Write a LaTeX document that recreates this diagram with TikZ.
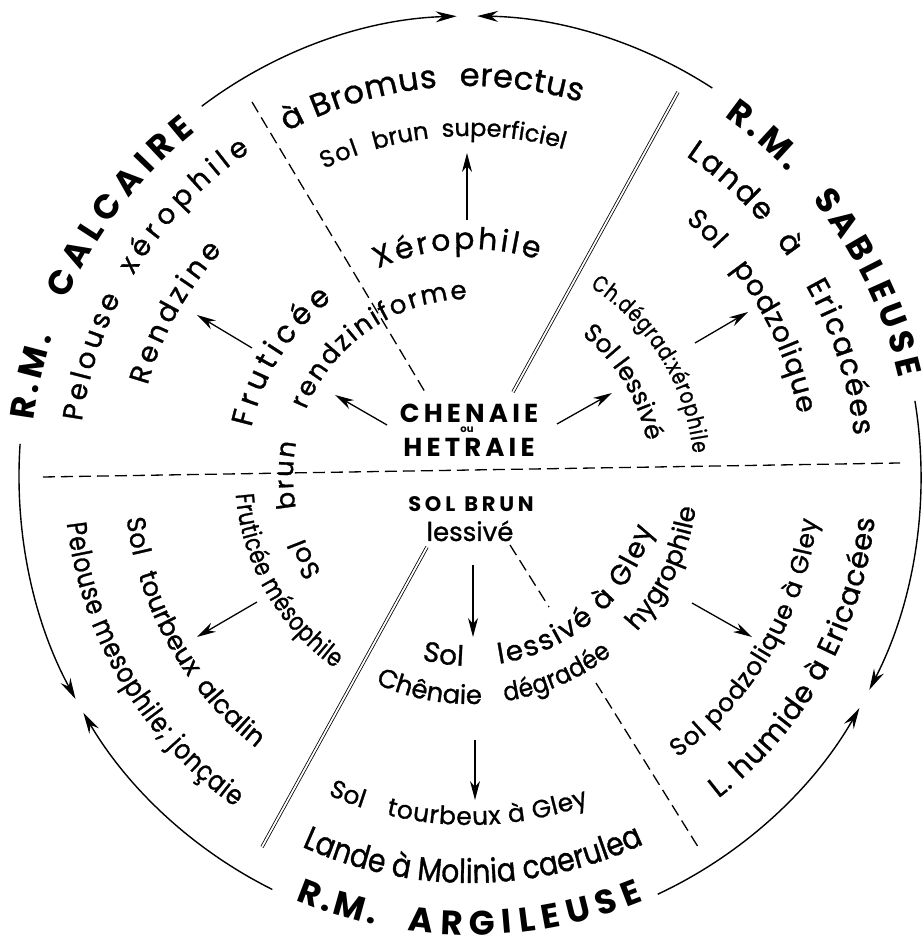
\documentclass[tikz,border=0pt]{standalone}
\usepackage{fontspec}
\setmainfont{Poppins}
\newfontfamily\tf{Poppins}[FakeBold=1.0]
\usetikzlibrary{decorations.text,arrows.meta,calc}
\tikzset{
  ring/.style={line width=1.4pt},
  ringarrow/.style={ring,-{Stealth[length=21pt,width=11pt,inset=7pt]}},
  smallarrow/.style={line width=1.3pt,-{Stealth[length=19pt,width=10pt,inset=6pt]}},
  sepline/.style={line width=1.3pt,dash pattern=on 12pt off 6pt},
  dblline/.style={double,double distance=1.8pt,line width=0.8pt},
  ctext/.style={inner sep=0pt,anchor=base}
}
% text spread along an arc of circle centred at C: radius, start angle, end angle, size, font, text
\newcommand\Ptext[6]{%
  \path[decorate,decoration={text along path,text align=fit to path,
    text={|\fontsize{#4}{#4}\selectfont#5|#6}}]
    ($(C)+(#2:#1)$) arc[start angle=#2,end angle=#3,radius=#1];}
% single character centred at an angle (clockwise, tops outward)
\newcommand\Ctext[5]{%
  \path[decorate,decoration={text along path,text align=center,
    text={|\fontsize{#3}{#3}\selectfont#4|#5}}]
    ($(C)+({#2+30}:#1)$) arc[start angle={#2+30},end angle={#2-30},radius=#1];}
\begin{document}
\begin{tikzpicture}[x=1pt,y=1pt]
\useasboundingbox (0,0) rectangle (923,947);
\fill[white] (0,0) rectangle (923,947);
\coordinate (C) at (470,471);

% outer ring arcs
\draw[ringarrow] ($(C)+(126.5:451 and 460)$) arc[start angle=126.5,end angle=91.7,x radius=451,y radius=460];
\draw[ringarrow] ($(C)+(57.5:451 and 460)$) arc[start angle=57.5,end angle=89.1,x radius=451,y radius=460];
\draw[ringarrow] ($(C)+(9.4:451 and 460)$) arc[start angle=9.4,end angle=-27.7,x radius=451,y radius=460];
\draw[ringarrow] ($(C)+(-65.4:451 and 460)$) arc[start angle=-65.4,end angle=-30.3,x radius=451,y radius=460];
\draw[ringarrow] ($(C)+(244:451 and 460)$) arc[start angle=244,end angle=211,x radius=451,y radius=460];
\draw[ringarrow] ($(C)+(176:451 and 460)$) arc[start angle=176,end angle=209,x radius=451,y radius=460];

% separators
\coordinate (h1) at (43,470); \coordinate (h2) at (900,484);
\draw[sepline] (h1) -- (h2);
\coordinate (d1) at (252,845); \coordinate (d2) at (425,555);
\draw[sepline] (d1) -- (d2);
\coordinate (e1) at (510,402); \coordinate (e2) at (549,340);
\coordinate (e3) at (596,264); \coordinate (e4) at (700,97);
\draw[sepline] (e1) -- (e2);
\draw[sepline] (e3) -- (e4);
\coordinate (u1) at (678,855); \coordinate (u2) at (513,555);
\draw[dblline] (u1) -- (u2);
\coordinate (l1) at (427,400); \coordinate (l2) at (262,100);
\draw[dblline] (l1) -- (l2);

% centre
\node[ctext,font=\fontsize{26}{26}\selectfont\bfseries\addfontfeatures{LetterSpace=16}] (chenaie) at (469,524) {CHENAIE};
\node[ctext,font=\fontsize{10}{10}\selectfont\bfseries] (ou) at (467,514) {ou};
\node[ctext,font=\fontsize{26}{26}\selectfont\bfseries\addfontfeatures{LetterSpace=16}] (hetraie) at (469,490) {HETRAIE};
\node[ctext,font=\fontsize{21}{21}\selectfont\bfseries\addfontfeatures{LetterSpace=18}] (solbrun) at (471,435) {SOL\hspace{9pt}BRUN};
\node[ctext,font=\fontsize{26}{26}\selectfont\tf] (lessive) at (470,406) {lessivé};

% small arrows
\coordinate (a1s) at (467,727); \coordinate (a1e) at (467,794);
\coordinate (a2s) at (387,522); \coordinate (a2e) at (335,552);
\coordinate (a3s) at (557,523); \coordinate (a3e) at (612,554);
\coordinate (a4s) at (252,599); \coordinate (a4e) at (197,632);
\coordinate (a5s) at (695,604); \coordinate (a5e) at (748,635);
\coordinate (a6s) at (257,345); \coordinate (a6e) at (197,310);
\coordinate (a7s) at (473,382); \coordinate (a7e) at (473,310);
\coordinate (a8s) at (475,207); \coordinate (a8e) at (475,147);
\coordinate (a9s) at (692,344); \coordinate (a9e) at (752,310);
\foreach \i in {1,...,9} {\draw[smallarrow] (a\i s) -- (a\i e);}

% upper-left sector
\Ptext{440}{172.8}{161.5}{34}{\bfseries}{R.M.}
\Ptext{440}{156.4}{128.5}{34}{\bfseries}{CALCAIRE}
\Ptext{392}{172}{153}{28}{\tf}{Pelouse}
\Ptext{392}{149.2}{124.1}{28}{\tf}{xérophile}
\Ptext{335}{164.3}{137.7}{28}{\tf}{Rendzine}
\Ptext{224}{167.5}{128}{30}{\tf}{Fruticée}
\Ptext{227}{114}{72.6}{30}{\tf}{Xérophile}
\Ptext{177}{213}{200.5}{26}{\tf}{Sol}
\Ptext{177}{190.5}{169}{26}{\tf}{brun}
\Ptext{177}{158}{91}{26}{\tf}{rendziniforme}
% top sector
\Ptext{390}{118}{94.8}{32}{\tf}{à Bromus}
\Ptext{390}{91.5}{73.5}{32}{\tf}{erectus}
\Ptext{340}{115.4}{109}{24}{\tf}{Sol}
\Ptext{340}{106.3}{97.5}{24}{\tf}{brun}
\Ptext{340}{94.7}{74.2}{24}{\tf}{superficiel}
% upper-right sector
\Ptext{440}{54.7}{43.6}{34}{\bfseries}{R.M.}
\Ptext{440}{39}{12.8}{34}{\bfseries}{SABLEUSE}
\Ptext{386}{56}{41}{30}{\tf}{Lande}
\Ctext{386}{36}{30}{\tf}{à}
\Ptext{386}{29.6}{6}{30}{\tf}{Ericacées}
\Ptext{334}{49.8}{42.6}{27}{\tf}{Sol}
\Ptext{334}{38.4}{10.7}{28}{\tf}{podzolique}
\Ptext{224}{57.6}{5.8}{23}{\tf\addfontfeatures{FakeStretch=0.8}}{Ch.dégrad:xérophile}
\Ptext{180}{51.6}{11.9}{25}{\tf}{Sol lessivé}
% lower-left sector
\Ptext{406}{186.7}{234.6}{28}{\tf\addfontfeatures{FakeStretch=0.84}}{Pelouse mesophile; jonçaie}
\Ptext{346}{187}{193.5}{26}{\tf}{Sol}
\Ptext{346}{196.5}{215.5}{26}{\tf}{tourbeux}
\Ptext{346}{217.5}{231.5}{26}{\tf}{alcalin}
\Ptext{235}{184.5}{234.9}{26}{\tf\addfontfeatures{FakeStretch=0.8}}{Fruticée mésophile}
% bottom sector
\Ptext{190}{255.3}{268}{28}{\tf}{Sol}
\Ptext{190}{278.8}{344}{28}{\tf}{lessivé à Gley}
\Ptext{228}{245.5}{272}{26}{\tf}{Chênaie}
\Ptext{228}{278.8}{308.5}{26}{\tf\addfontfeatures{FakeStretch=0.9}}{dégradée}
\Ptext{228}{317}{352}{26}{\tf}{hygrophile}
\Ptext{349}{246}{252}{25}{\tf}{Sol}
\Ptext{349}{256.1}{289.9}{25}{\tf}{tourbeux à Gley}
\Ptext{407}{245.6}{295.3}{33}{\tf\addfontfeatures{FakeStretch=0.85}}{Lande à Molinia caerulea}
\Ptext{459}{247.6}{258}{34}{\bfseries}{R.M.}
\Ptext{459}{262.2}{292.2}{34}{\bfseries}{ARGILEUSE}
% lower-right sector
\Ptext{407}{307.6}{354}{29}{\tf}{L. humide à Ericacées}
\Ptext{350}{306.4}{352.8}{25}{\tf}{Sol podzolique à Gley}
\end{tikzpicture}
\end{document}
